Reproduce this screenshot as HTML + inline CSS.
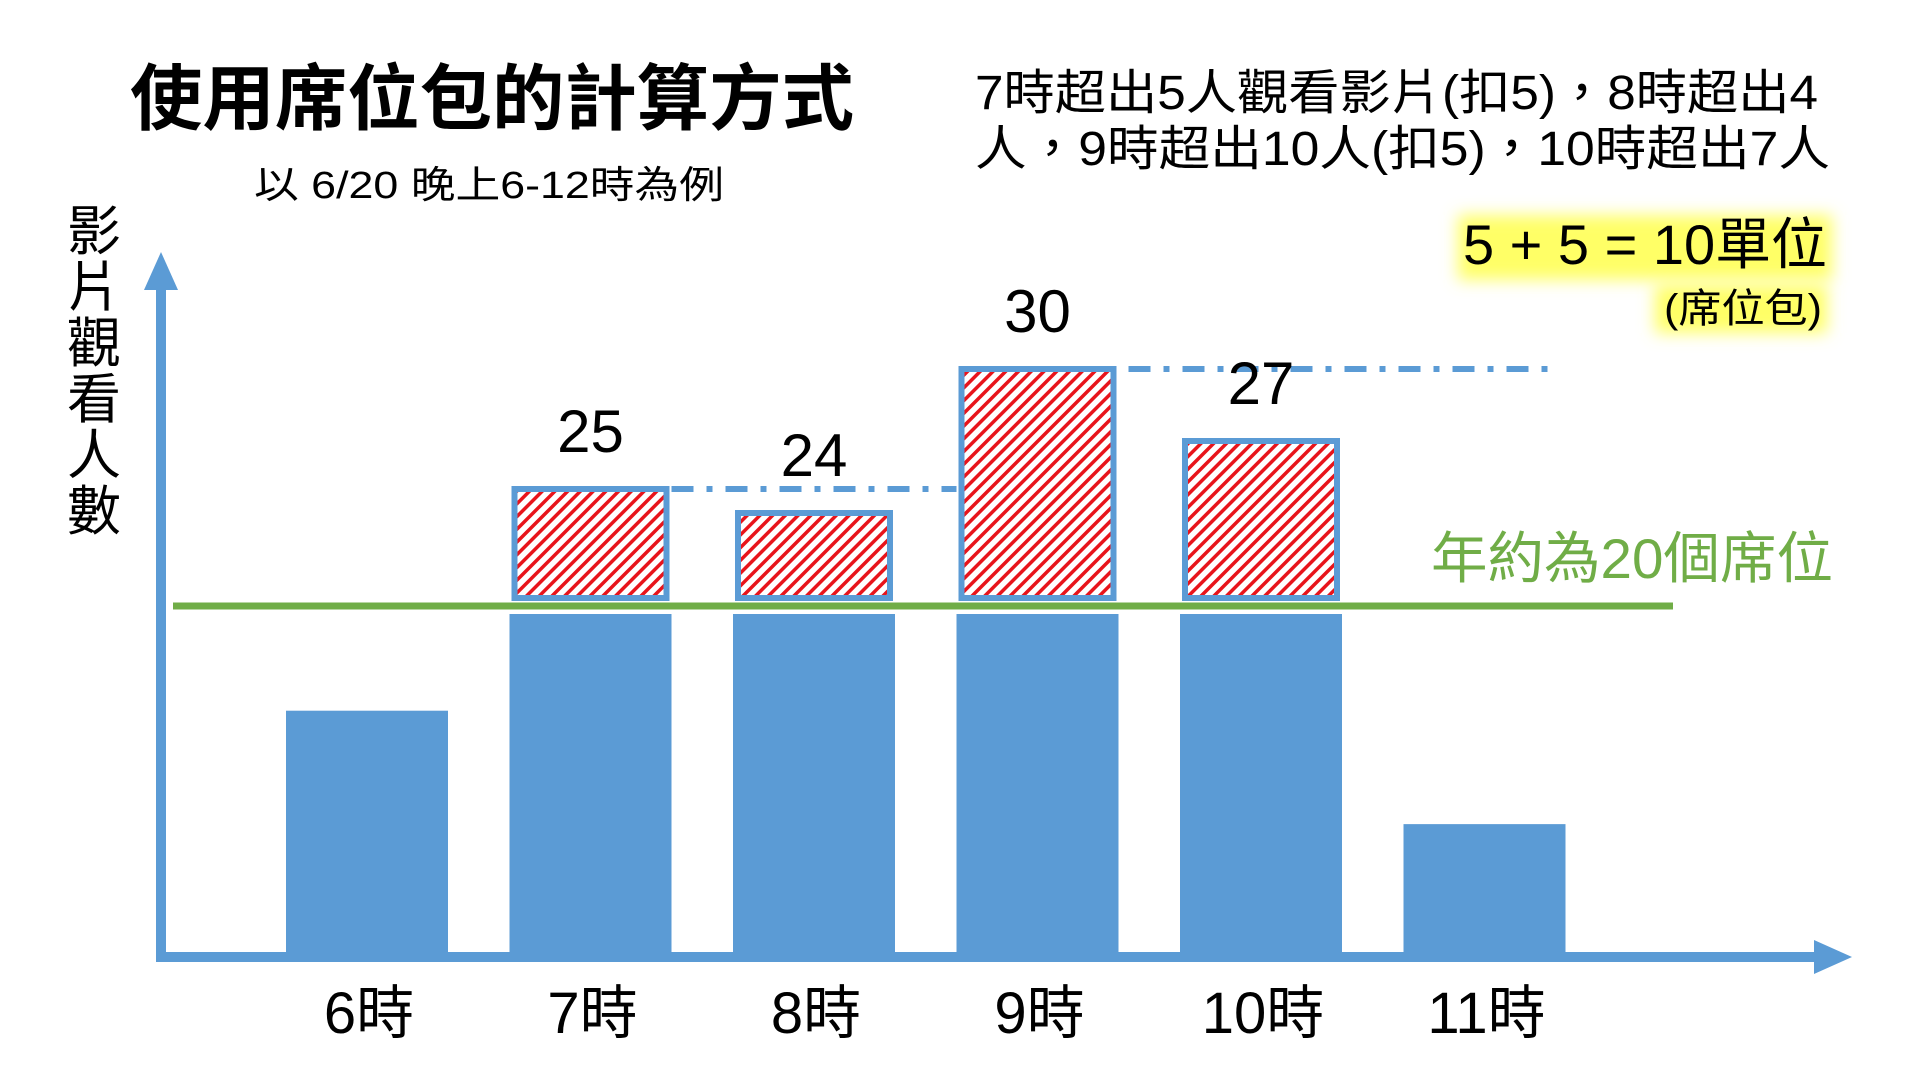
<!DOCTYPE html>
<html><head><meta charset="utf-8"><style>
html,body{margin:0;padding:0;background:#fff;}
svg{display:block;font-family:"Liberation Sans","Noto Sans CJK TC",sans-serif;}
</style></head><body>
<svg id="chart" width="1920" height="1080" viewBox="0 0 1920 1080">
<defs>
<pattern id="hatch" patternUnits="userSpaceOnUse" width="9" height="9" patternTransform="rotate(45)">
<rect width="9" height="9" fill="#fff"/><rect width="3.5" height="9" fill="#e8141b"/>
</pattern>
<filter id="glow" x="-20%" y="-40%" width="140%" height="180%"><feGaussianBlur stdDeviation="8"/></filter>
</defs>
<text x="130" y="124" font-size="72" font-weight="bold" textLength="724" lengthAdjust="spacingAndGlyphs">使用席位包的計算方式</text>
<text x="254" y="198" font-size="38" textLength="470" lengthAdjust="spacingAndGlyphs">以 6/20 晚上6-12時為例</text>
<text x="975" y="109" font-size="48" textLength="843" lengthAdjust="spacingAndGlyphs">7時超出5人觀看影片(扣5)，8時超出4</text>
<text x="975" y="165" font-size="48" textLength="855" lengthAdjust="spacingAndGlyphs">人，9時超出10人(扣5)，10時超出7人</text>
<rect x="1458" y="215" width="374" height="65" fill="#ffff66" filter="url(#glow)"/>
<rect x="1655" y="285" width="172" height="48" fill="#ffff66" filter="url(#glow)"/>
<text x="1463" y="264" font-size="56" textLength="364" lengthAdjust="spacingAndGlyphs">5 + 5 = 10單位</text>
<text x="1664" y="322" font-size="40" textLength="158" lengthAdjust="spacingAndGlyphs">(席位包)</text>
<g id="ylabel" font-size="54">
<text x="94" y="250" text-anchor="middle">影</text><text x="94" y="306" text-anchor="middle">片</text><text x="94" y="362" text-anchor="middle">觀</text><text x="94" y="418" text-anchor="middle">看</text><text x="94" y="474" text-anchor="middle">人</text><text x="94" y="530" text-anchor="middle">數</text>
</g>
<g id="bars"></g>
<g id="over"></g>
<g id="lines"></g>
<g id="labels"></g>
<line x1="161" y1="280" x2="161" y2="960" stroke="#5b9bd5" stroke-width="10"/>
<polygon points="161,252 144,290 178,290" fill="#5b9bd5"/>
<line x1="156" y1="957" x2="1820" y2="957" stroke="#5b9bd5" stroke-width="10"/>
<polygon points="1852,957 1814,940 1814,974" fill="#5b9bd5"/>
</svg>
<script>
const categories = ["6時","7時","8時","9時","10時","11時"];
const baseValues = [14, 20, 20, 20, 20, 7.5];
const peakValues = [null, 25, 24, 30, 27, null];
const seatLimit = 20;
const limitLabel = "年約為20個席位";

const NS = "http://www.w3.org/2000/svg";
const bandX = i => 286 + i * 223.5;
const barW = 162;
const yBase = v => 955 - v * (955 - 606) / 20;
const yPeak = v => 606 - (v - 20) * 24;
function mk(tag, attrs, parent){ const e = document.createElementNS(NS, tag); for (const k in attrs) e.setAttribute(k, attrs[k]); parent.appendChild(e); return e; }
const gB = document.getElementById('bars'), gO = document.getElementById('over'), gL = document.getElementById('lines'), gT = document.getElementById('labels');

categories.forEach((c, i) => {
  const x = bandX(i);
  const v = Math.min(baseValues[i], seatLimit);
  const top = baseValues[i] >= seatLimit ? yBase(v) + 8 : yBase(v);
  const r = mk('rect', {x: x, y: top, width: barW, height: 955 - top, fill: '#5b9bd5'}, gB);
  
  
  const t = mk('text', {x: x + barW / 2 + 2, y: 1033, 'font-size': 58, 'text-anchor': 'middle'}, gT);
  t.textContent = c;
  
  
  if (peakValues[i] != null) {
    const pt = yPeak(peakValues[i]);
    const h = mk('rect', {x: x + 5, y: pt + 3, width: barW - 10, height: 598 - pt - 3, fill: 'url(#hatch)', stroke: '#5b9bd5', 'stroke-width': 6}, gO);
    
    
    const vl = mk('text', {x: x + barW / 2, y: pt - 34, 'font-size': 60, 'text-anchor': 'middle'}, gT);
    vl.textContent = String(peakValues[i]);
    
    
  }
});

// peak reference dash-dot lines
const y25 = yPeak(peakValues[1]) + 3, y30 = yPeak(peakValues[3]) + 3;
const d1 = mk('line', {x1: bandX(1) + barW, y1: y25, x2: bandX(3), y2: y25, stroke: '#5b9bd5', 'stroke-width': 6, 'stroke-dasharray': '22 13 6 13'}, gL);


const d2 = mk('line', {x1: bandX(3) + barW + 10, y1: y30, x2: 1552, y2: y30, stroke: '#5b9bd5', 'stroke-width': 6, 'stroke-dasharray': '22 13 6 13'}, gL);



// seat limit line
const gy = yBase(seatLimit);
const gl = mk('line', {x1: 173, y1: gy, x2: 1673, y2: gy, stroke: '#70ad47', 'stroke-width': 7}, gL);


const gt = mk('text', {x: 1431, y: 578, 'font-size': 56, fill: '#70ad47', textLength: 402, lengthAdjust: 'spacingAndGlyphs'}, gT);
gt.textContent = limitLabel;


</script>
</body></html>
